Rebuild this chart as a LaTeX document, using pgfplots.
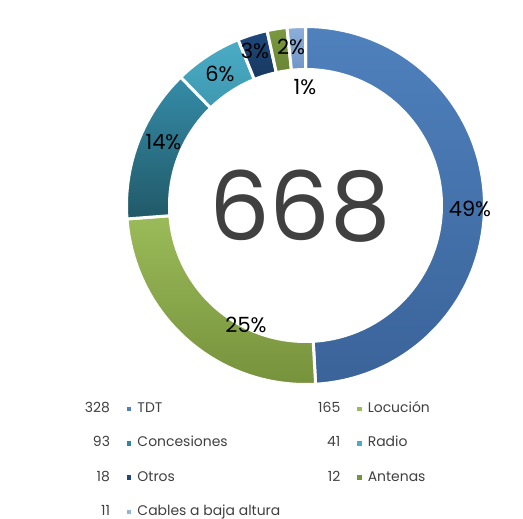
\documentclass[border=0pt]{standalone}
\usepackage{pgfplots}
\pgfplotsset{compat=1.18}
\usepackage{pgfplotstable}
\usepackage{fontspec}
\setmainfont{Poppins}
\newcommand\pctfont{\fontsize{21}{24}\selectfont}
\newcommand\legfont{\fontsize{14}{16}\selectfont}

% top / bottom of the gradient, legend marker
\definecolor{ct0}{HTML}{4F81BD}\definecolor{cb0}{HTML}{3A6399}\definecolor{cl0}{HTML}{4F81BD}
\definecolor{ct1}{HTML}{9BBB59}\definecolor{cb1}{HTML}{76923C}\definecolor{cl1}{HTML}{9BBB59}
\definecolor{ct2}{HTML}{358CA8}\definecolor{cb2}{HTML}{215968}\definecolor{cl2}{HTML}{31859C}
\definecolor{ct3}{HTML}{4BACC6}\definecolor{cb3}{HTML}{3E98B0}\definecolor{cl3}{HTML}{4BACC6}
\definecolor{ct4}{HTML}{1F497D}\definecolor{cb4}{HTML}{17375E}\definecolor{cl4}{HTML}{1F497D}
\definecolor{ct5}{HTML}{7A9940}\definecolor{cb5}{HTML}{6A8535}\definecolor{cl5}{HTML}{77933C}
\definecolor{ct6}{HTML}{8DAEDA}\definecolor{cb6}{HTML}{7096C7}\definecolor{cl6}{HTML}{95B3D7}
\definecolor{legtext}{HTML}{404040}
\definecolor{bignum}{HTML}{404040}

\pgfplotstableread[col sep=comma]{
name,value
TDT,328
Locución,165
Concesiones,93
Radio,41
Otros,18
Antenas,12
Cables a baja altura,11
}\piedata

\begin{document}
% total and slice angles (clockwise from the top)
\def\total{0}%
\pgfplotsforeachungrouped \i in {0,...,6}{%
  \pgfplotstablegetelem{\i}{value}\of\piedata
  \pgfmathsetmacro\total{\total+\pgfplotsretval}%
}%
\def\cum{0}%
\pgfplotsforeachungrouped \i in {0,...,6}{%
  \pgfplotstablegetelem{\i}{value}\of\piedata
  \let\v\pgfplotsretval
  \expandafter\xdef\csname V\i\endcsname{\v}%
  \pgfmathsetmacro\sA{90-\cum/\total*360}%
  \pgfmathsetmacro\cum{\cum+\v}%
  \pgfmathsetmacro\sB{90-\cum/\total*360}%
  \expandafter\xdef\csname A\i\endcsname{\sA}%
  \expandafter\xdef\csname B\i\endcsname{\sB}%
  \pgfplotstablegetelem{\i}{name}\of\piedata
  \expandafter\xdef\csname N\i\endcsname{\pgfplotsretval}%
  % room left of the legend marker (second legend column gets more)
  \ifodd\i \expandafter\xdef\csname L\i\endcsname{77}%
  \else \expandafter\xdef\csname L\i\endcsname{48}\fi
}%
\begin{tikzpicture}
\begin{axis}[
  scale only axis, width=523bp, height=519bp,
  xmin=0, xmax=523, ymin=0, ymax=519, enlargelimits=false,
  hide axis, clip=false,
  declare function={
    rr(\t)= \t<=1 ? 179 : (\t<=2 ? 179-43*(\t-1) : (\t<=3 ? 136 : 136+43*(\t-3)));
    th(\t,\a,\b)= \t<=1 ? \a+(\b-\a)*\t : (\t<=2 ? \b : (\t<=3 ? \b+(\a-\b)*(\t-2) : \a));
  },
  legend columns=2,
  legend cell align=left,
  legend style={draw=none, fill=none, inner sep=0pt, outer sep=0pt,
    at={(0.15105,0.2254)}, anchor=north west,
    /tikz/column sep=0pt, /tikz/row sep=20.3bp,
    nodes={inner xsep=0pt, inner ysep=0pt,
      text height=10bp, text depth=3bp, font=\legfont, text=legtext}},
]
\pgfplotsinvokeforeach{0,...,6}{
  \addplot[draw=white, line width=3bp, top color=ct#1, bottom color=cb#1,
    no markers, domain=0:4, samples=401, variable=\t,
    legend image code/.code={
      \pgfpathrectangle{\pgfpoint{-\csname L#1\endcsname bp}{-7bp}}%
        {\pgfpoint{\csname L#1\endcsname bp+10.5bp}{14bp}}%
      \pgfusepath{use as bounding box}%
      \pgfsetfillcolor{cl#1}%
      \pgfpathrectangle{\pgfpoint{0bp}{-2.2bp}}{\pgfpoint{4.4bp}{4.4bp}}%
      \pgfusepath{fill}%
      \node[anchor=east] at (-17bp,0) {\csname V#1\endcsname};
    }]
    ({305.5+rr(\t)*cos(th(\t,\csname A#1\endcsname,\csname B#1\endcsname))},
     {313.5+rr(\t)*sin(th(\t,\csname A#1\endcsname,\csname B#1\endcsname))});
  \addlegendentry{\csname N#1\endcsname}
}
\node[font=\pctfont] at (axis cs:470,310) {49\%};
\node[font=\pctfont] at (axis cs:246,194) {25\%};
\node[font=\pctfont] at (axis cs:163.5,377) {14\%};
\node[font=\pctfont] at (axis cs:220,445.5) {6\%};
\node[font=\pctfont] at (axis cs:255,468.5) {3\%};
\node[font=\pctfont] at (axis cs:291,472) {2\%};
\node[font=\pctfont] at (axis cs:305,432) {1\%};
\node[font=\fontsize{96}{106}\selectfont, text=bignum] at (axis cs:300,313) {668};
\path (rel axis cs:0,0) rectangle (rel axis cs:1,1);
\end{axis}
\end{tikzpicture}
\end{document}
